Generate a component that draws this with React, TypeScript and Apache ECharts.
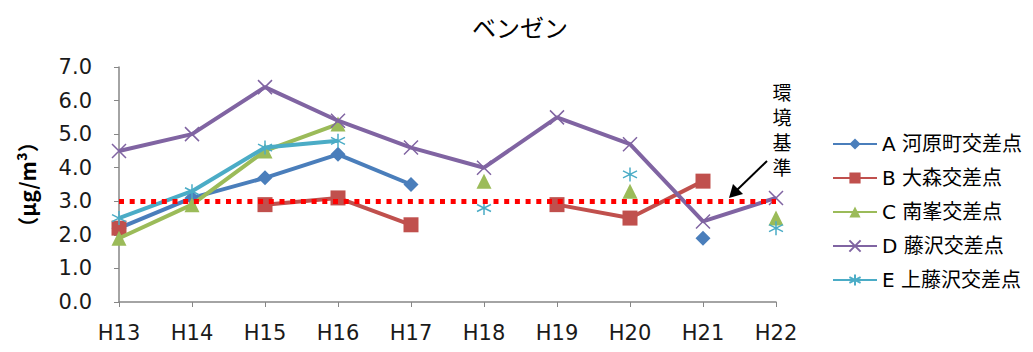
import React, { useEffect, useRef } from "react";
import * as echarts from "echarts";

const categories = ["H13", "H14", "H15", "H16", "H17", "H18", "H19", "H20", "H21", "H22"];
const seriesNames = ["A 河原町交差点", "B 大森交差点", "C 南峯交差点", "D 藤沢交差点", "E 上藤沢交差点"];
const valuesA = [2.2, 3.1, 3.7, 4.4, 3.5, null, null, null, 1.9, null];
const valuesB = [2.2, null, 2.9, 3.1, 2.3, null, 2.9, 2.5, 3.6, null];
const valuesC = [1.9, 2.9, 4.5, 5.3, null, 3.6, null, 3.3, null, 2.5];
const valuesD = [4.5, 5.0, 6.4, 5.4, 4.6, 4.0, 5.5, 4.7, 2.4, 3.1];
const valuesE = [2.5, 3.3, 4.6, 4.8, null, 2.8, null, 3.8, null, 2.2];
const standardValue = 3.0;
const standardLabelChars = ["環", "境", "基", "準"];
const yTicks = { min: 0, max: 7, interval: 1 };

const FONT = "'DejaVu Sans', 'Noto Sans CJK JP', sans-serif";
const JFONT = "'Noto Sans CJK JP', sans-serif";
const colors = ["#4A7EBB", "#C0504D", "#9BBB59", "#8064A2", "#4BACC6"];
const symbols = [
  "diamond",
  "rect",
  "triangle",
  "path://M0,0L10,10M10,0L0,10",
  "path://M5,0L5,10M0,2.5L10,7.5M0,7.5L10,2.5",
];
const symbolSizes = [15, 15, 15, 14, 14];

export default function App() {
  const ref = useRef<HTMLDivElement>(null);
  useEffect(() => {
    if (!ref.current) return;
    const chart = echarts.init(ref.current, null, { renderer: "svg" });
    const all = [valuesA, valuesB, valuesC, valuesD, valuesE];
    const series: any[] = all.map((vals, i) => {
      const isStroke = i >= 3;
      return {
        name: seriesNames[i],
        type: "line",
        data: vals,
        symbol: symbols[i],
        symbolSize: symbolSizes[i],
        showAllSymbol: true,
        connectNulls: false,
        lineStyle: { color: colors[i], width: 4 },
        itemStyle: isStroke
          ? { color: colors[i], borderColor: colors[i], borderWidth: 1.5 }
          : { color: colors[i], borderWidth: 0 },
        z: 2 + i,
      };
    });
    series[1].markLine = {
      silent: true,
      symbol: ["none", "none"],
      label: { show: false },
      lineStyle: { color: "#FF0000", type: [5, 5.7], width: 5 },
      data: [{ yAxis: standardValue }],
      z: 10,
    };
    const labelTexts = standardLabelChars.map((ch, k) => ({
      type: "text",
      x: 774,
      y: 83 + k * 25,
      style: {
        text: ch,
        fontSize: 19,
        fontFamily: JFONT,
        fill: "#000",
        align: "center",
        verticalAlign: "middle",
      },
    }));
    chart.setOption({
      animation: false,
      color: colors,
      title: {
        text: "ベンゼン",
        left: 507,
        top: 1,
        textAlign: "center",
        textStyle: { fontFamily: JFONT, fontSize: 24, fontWeight: "normal", color: "#000" },
      },
      legend: {
        orient: "vertical",
        left: 819,
        top: 120,
        itemWidth: 44,
        itemHeight: 14,
        itemGap: 12,
        textStyle: { fontFamily: FONT, fontSize: 20, color: "#000", lineHeight: 22 },
        data: seriesNames,
      },
      grid: { left: 104, right: 249, top: 59, bottom: 42 },
      xAxis: {
        type: "category",
        data: categories,
        boundaryGap: false,
        axisLine: { lineStyle: { color: "#868686", width: 1.5 } },
        axisTick: { show: true, length: 5, lineStyle: { color: "#868686" } },
        axisLabel: { fontFamily: FONT, fontSize: 21, color: "#1a1a1a", margin: 20 },
      },
      yAxis: {
        type: "value",
        min: yTicks.min,
        max: yTicks.max,
        interval: yTicks.interval,
        name: "（μg/m³）",
        nameLocation: "middle",
        nameGap: 82,
        nameTextStyle: { fontFamily: JFONT, fontSize: 21, color: "#000", fontWeight: "bold" },
        axisLine: { show: true, lineStyle: { color: "#868686", width: 1.5 } },
        axisTick: { show: true, length: 5, lineStyle: { color: "#868686" } },
        splitLine: { show: false },
        axisLabel: {
          fontFamily: FONT,
          fontSize: 21,
          color: "#1a1a1a",
          margin: 27,
          formatter: (v: number) => v.toFixed(1),
        },
      },
      graphic: [
        ...labelTexts,
        {
          type: "line",
          shape: { x1: 759, y1: 153, x2: 729, y2: 182 },
          style: { stroke: "#000", lineWidth: 2 },
        },
        {
          type: "polygon",
          shape: { points: [[721, 190], [725, 176], [735, 186]] },
          style: { fill: "#000" },
        },
      ],
      series,
    });
    return () => chart.dispose();
  }, []);
  return <div ref={ref} style={{ width: 1017, height: 336 }} />;
}
